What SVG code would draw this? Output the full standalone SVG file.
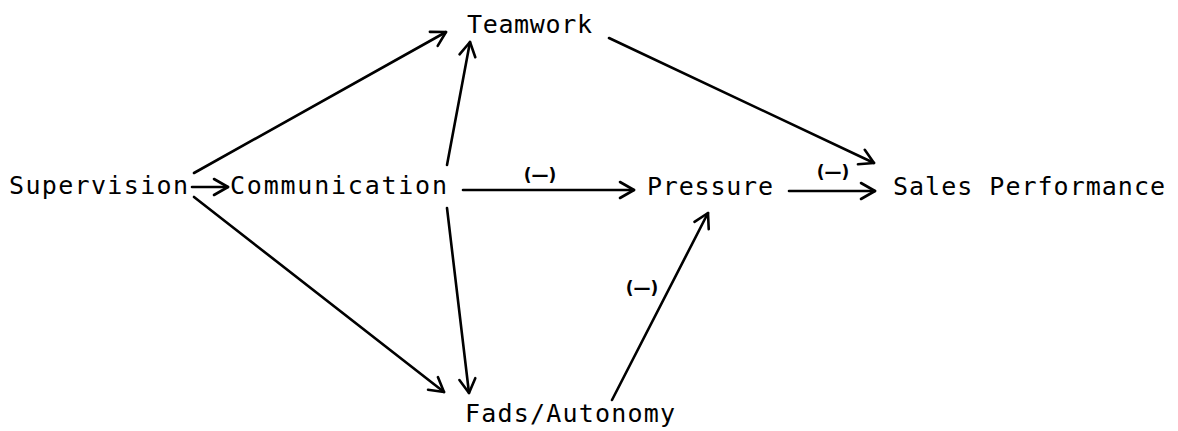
<svg xmlns="http://www.w3.org/2000/svg" width="1178" height="431" viewBox="0 0 1178 431">
<style>
.n{font-family:"DejaVu Sans Mono","Liberation Mono",monospace;font-size:25px;fill:#000}
.l{font-family:"DejaVu Sans","Liberation Sans",sans-serif;font-size:17px;font-weight:bold;fill:#000}
.c{stroke:#000;stroke-width:2.6;fill:none;stroke-linecap:round}
</style>
<defs>
<marker id="ah" markerUnits="userSpaceOnUse" viewBox="-18 -11 20 22" refX="0" refY="0" markerWidth="20" markerHeight="22" orient="auto">
<path d="M-14,-8 L0,0 L-14,8" fill="none" stroke="#000" stroke-width="2.6" stroke-linecap="round" stroke-linejoin="round"/>
</marker>
</defs>
<rect width="1178" height="431" fill="#fff"/>
<g id="connectors">
<line class="c" x1="192" y1="187" x2="228" y2="187" marker-end="url(#ah)"/>
<line class="c" x1="194" y1="173" x2="446" y2="32" marker-end="url(#ah)"/>
<line class="c" x1="194" y1="197" x2="444" y2="392" marker-end="url(#ah)"/>
<line class="c" x1="447" y1="165" x2="470" y2="42" marker-end="url(#ah)"/>
<line class="c" x1="447" y1="208" x2="469" y2="393" marker-end="url(#ah)"/>
<line class="c" x1="463" y1="190" x2="634" y2="190" marker-end="url(#ah)"/>
<line class="c" x1="789" y1="191" x2="875" y2="191" marker-end="url(#ah)"/>
<line class="c" x1="609" y1="38" x2="874" y2="163" marker-end="url(#ah)"/>
<line class="c" x1="612" y1="400" x2="708" y2="213" marker-end="url(#ah)"/>
<text class="l" x="540" y="181" text-anchor="middle">(—)</text>
<text class="l" x="833" y="178" text-anchor="middle">(—)</text>
<text class="l" x="642" y="294" text-anchor="middle">(—)</text>
</g>
<g id="supervision"><text class="n" x="9" y="194" textLength="179" lengthAdjust="spacing">Supervision</text></g>
<g id="communication"><text class="n" x="230" y="194" textLength="217" lengthAdjust="spacing">Communication</text></g>
<g id="teamwork"><text class="n" x="467" y="33" textLength="125" lengthAdjust="spacing">Teamwork</text></g>
<g id="pressure"><text class="n" x="647" y="195" textLength="126" lengthAdjust="spacing">Pressure</text></g>
<g id="sales"><text class="n" x="893" y="195" textLength="272" lengthAdjust="spacing">Sales Performance</text></g>
<g id="fads"><text class="n" x="465" y="422" textLength="210" lengthAdjust="spacing">Fads/Autonomy</text></g>
</svg>
